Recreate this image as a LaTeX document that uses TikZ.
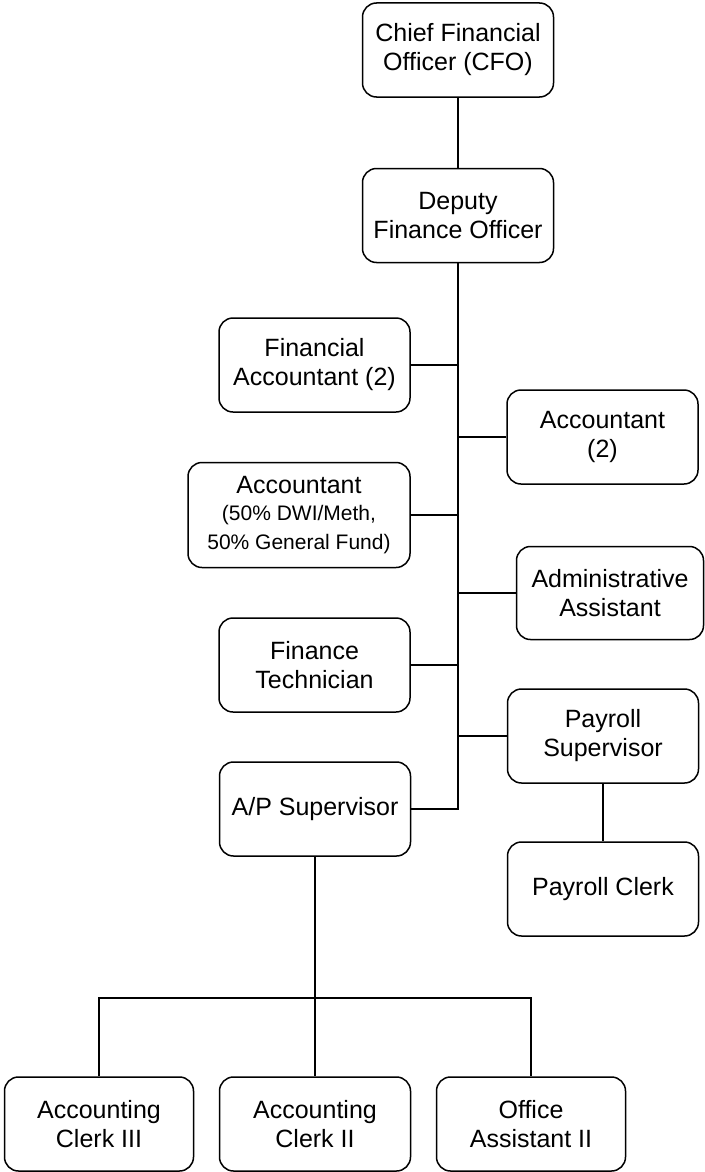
\documentclass[tikz,border=0pt]{standalone}
\usepackage{fontspec}
\setmainfont{Liberation Sans}
\usepackage{tikz}
\usetikzlibrary{positioning, calc}

\tikzset{
  post/.style={draw, line width=1.5pt, rounded corners=14pt, align=center,
    minimum width=191pt, minimum height=94pt, inner sep=0pt,
    font=\fontsize{25}{29}\selectfont},
  link/.style={line width=1.6pt}
}

\begin{document}
\begin{tikzpicture}[x=1pt, y=-1pt]
    \useasboundingbox (0,0) rectangle (704,1172);
    % top of the chart
    \node[post] (cfo) at (458,50) {Chief Financial\\Officer (CFO)};
    \node[post] (dfo) at (458,215.5) {Deputy\\Finance Officer};
    % staff under the deputy
    \node[post] (fa) at (314.5,365) {Financial\\Accountant (2)};
    \node[post] (acc) at (602.5,437) {Accountant\\(2)};
    \node[post, minimum width=222pt, minimum height=105pt] (accf) at (299,515) {Accountant\\[-2pt]
      {\fontsize{21}{27}\selectfont (50\% DWI/Meth,}\\
      {\fontsize{21}{27}\selectfont 50\% General Fund)}};
    \node[post, minimum width=187pt, minimum height=93pt] (adm) at (610,593) {Administrative\\Assistant};
    \node[post] (ft) at (314.5,665) {Finance\\Technician};
    \node[post] (ps) at (603,736) {Payroll\\Supervisor};
    \node[post] (ap) at (315,809) {A/P Supervisor};
    \node[post] (pc) at (603,889) {Payroll Clerk};
    % clerks under A/P
    \node[post, minimum width=189pt] (ac3) at (99,1124) {Accounting\\Clerk III};
    \node[post] (ac2) at (315,1124) {Accounting\\Clerk II};
    \node[post, minimum width=189pt] (oa) at (531,1124) {Office\\Assistant II};
    \coordinate (bus) at (315,998);

    \draw[link] (cfo) -- (dfo);
    \draw[link] (dfo.south) -- (dfo.south |- ap.east) -- (ap.east);
    \draw[link] (fa.east) -- (fa.east -| dfo.south);
    \draw[link] (acc.west) -- (acc.west -| dfo.south);
    \draw[link] (accf.east) -- (accf.east -| dfo.south);
    \draw[link] (adm.west) -- (adm.west -| dfo.south);
    \draw[link] (ft.east) -- (ft.east -| dfo.south);
    \draw[link] (ps.west) -- (ps.west -| dfo.south);
    \draw[link] (ps.south) -- (ps.south |- pc.north);
    \draw[link] (ap.south) -- (ac2.north);
    \draw[link] (ac3.north) -- (ac3.north |- bus) -- (oa.north |- bus) -- (oa.north);
\end{tikzpicture}
\end{document}
